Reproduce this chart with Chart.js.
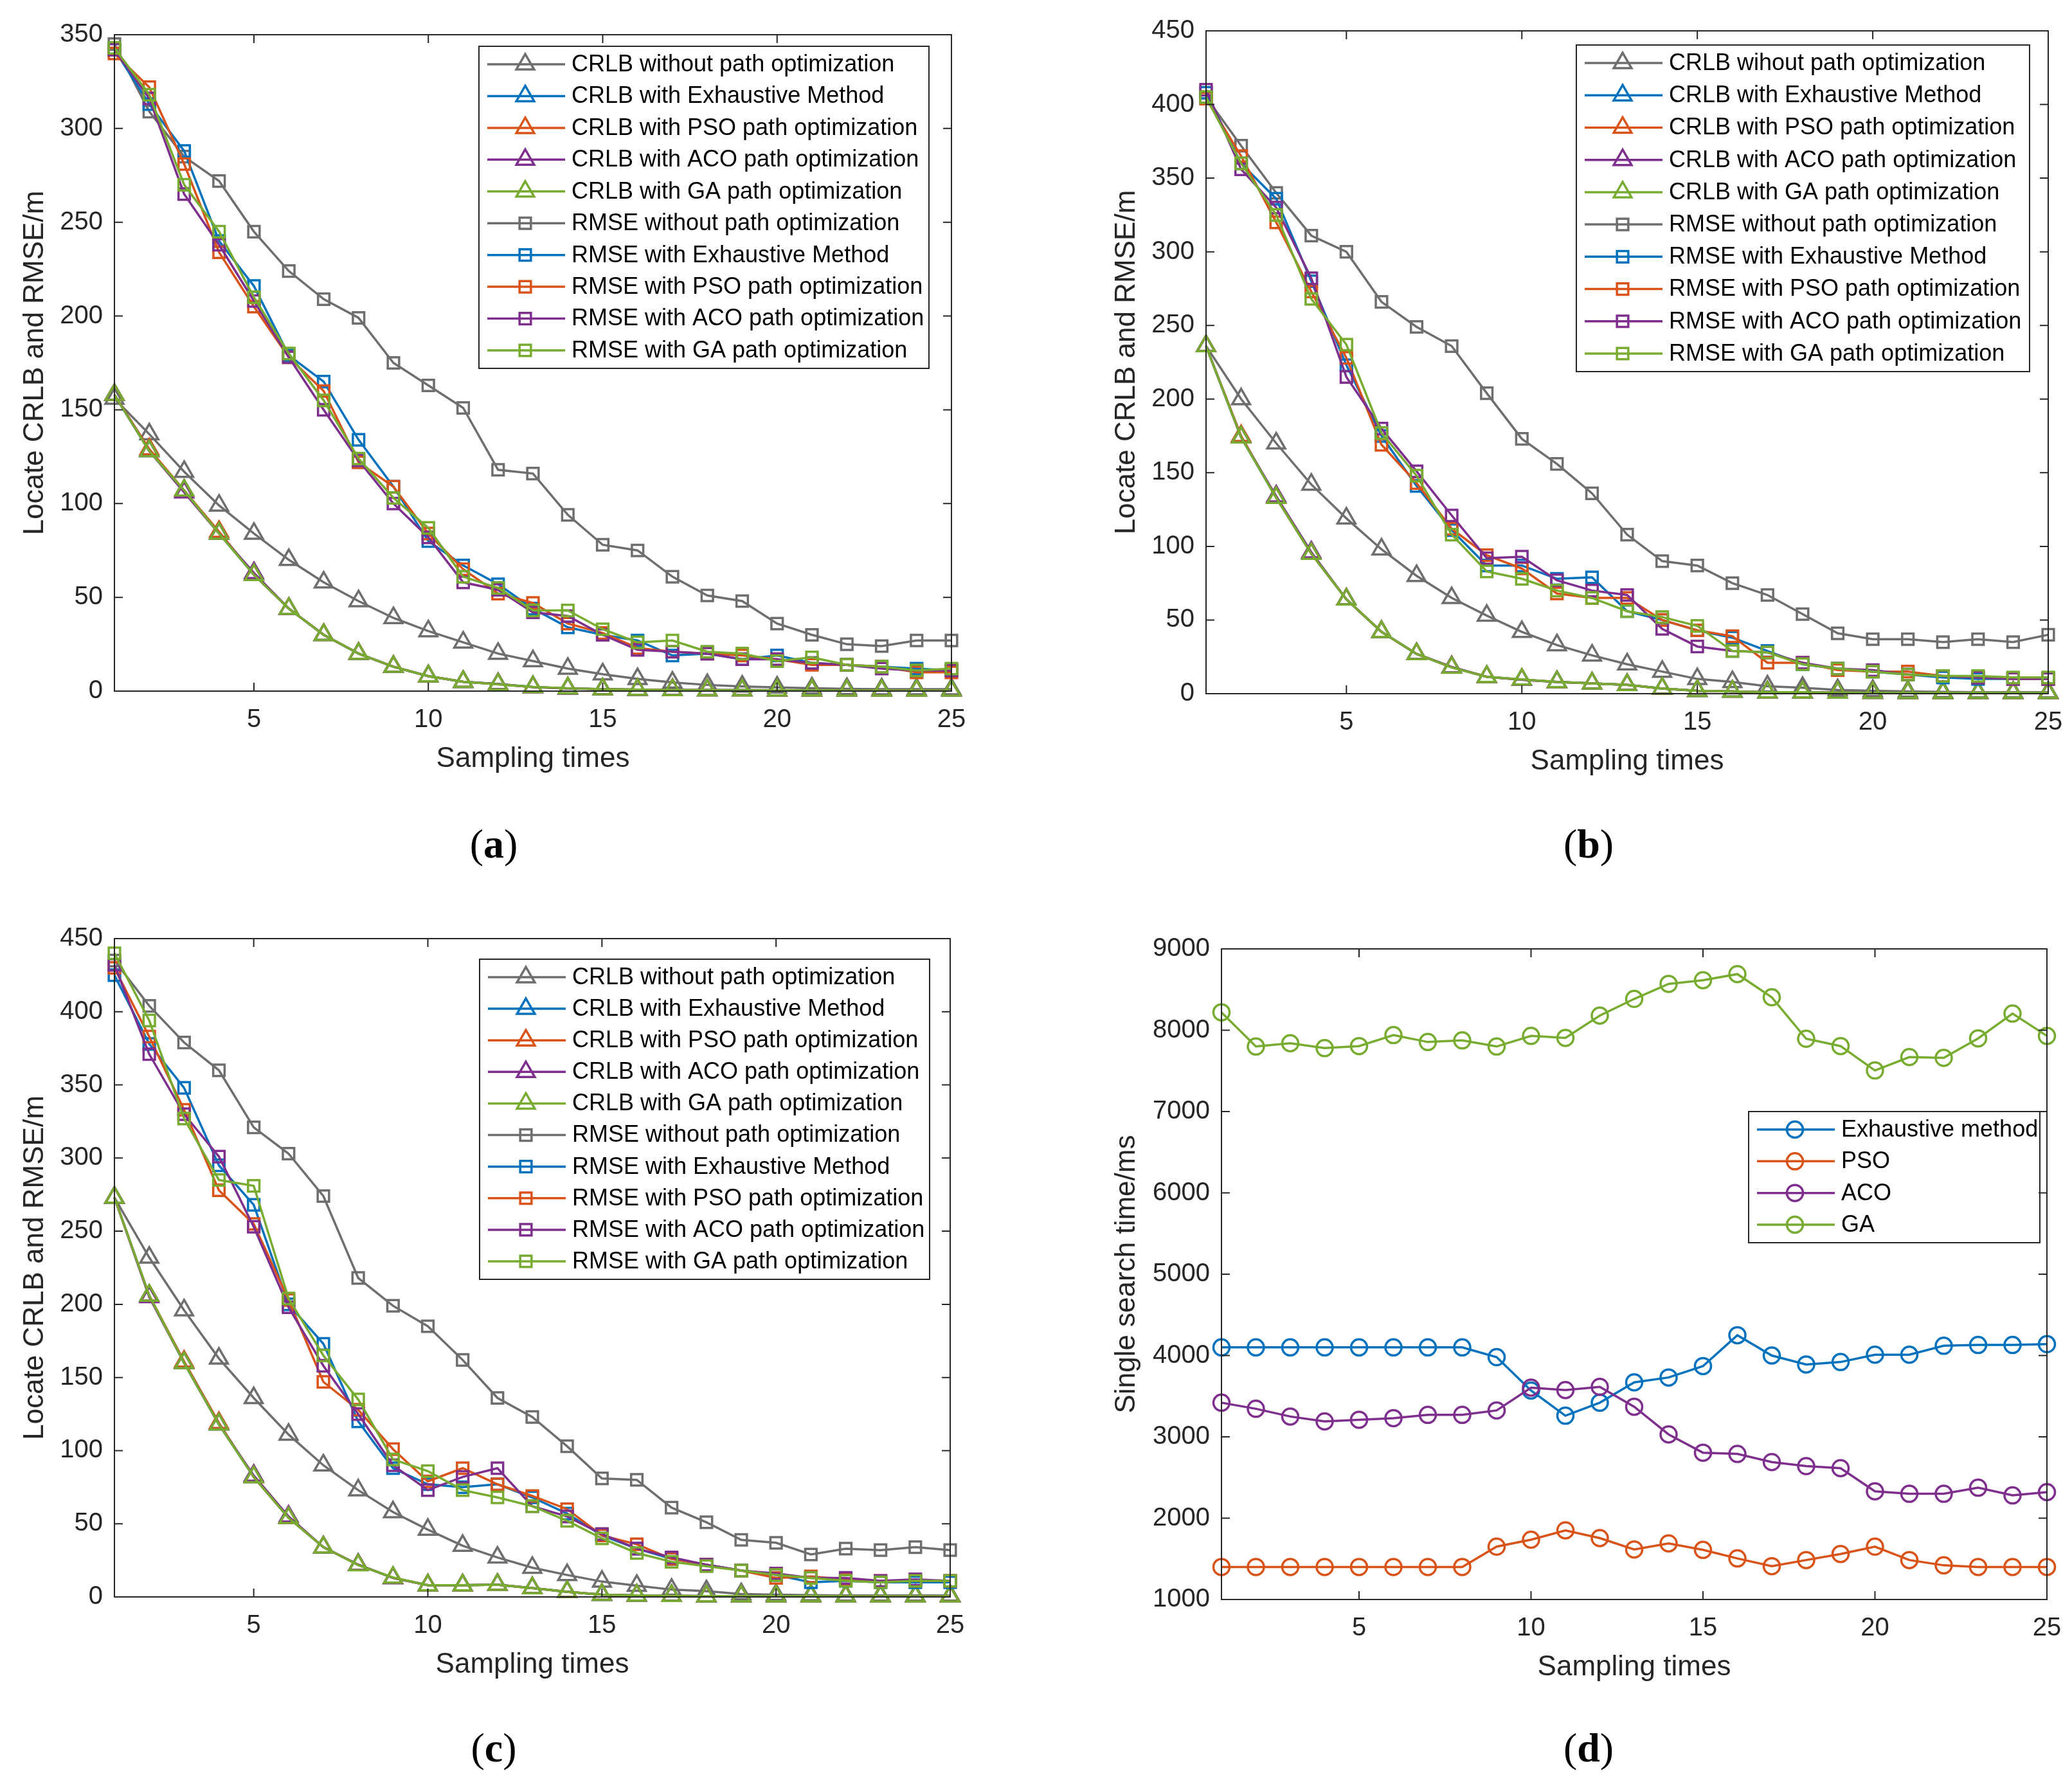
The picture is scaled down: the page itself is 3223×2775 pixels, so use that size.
<!DOCTYPE html>
<html>
<head>
<meta charset="utf-8">
<script src="https://cdn.jsdelivr.net/npm/chart.js@4.4.1/dist/chart.umd.min.js"></script>
<style>
  html, body { margin: 0; padding: 0; background: #fff; }
  body { width: 3223px; height: 2775px; position: relative; overflow: hidden; }
  canvas { position: absolute; }
  .cap { position: absolute; font-family: 'Liberation Serif', 'DejaVu Serif', serif; font-size: 64px;
         color: #000; transform: translate(-50%, -50%); white-space: nowrap; }
</style>
</head>
<body>
<canvas id="chartA"></canvas>
<canvas id="chartB"></canvas>
<canvas id="chartC"></canvas>
<canvas id="chartD"></canvas>
<div class="cap" style="left:768px;top:1313px">(<b>a</b>)</div>
<div class="cap" style="left:2471px;top:1313px">(<b>b</b>)</div>
<div class="cap" style="left:768px;top:2719px">(<b>c</b>)</div>
<div class="cap" style="left:2471px;top:2719px">(<b>d</b>)</div>
<script>
// sampling times (x axis) and labelled ticks
const sampling = [1, 2, 3, 4, 5, 6, 7, 8, 9, 10, 11, 12, 13, 14, 15, 16, 17, 18, 19, 20, 21, 22, 23, 24, 25];
const xTicks = [5, 10, 15, 20, 25];

// legend labels
const labelsA = ['CRLB without path optimization', 'CRLB with Exhaustive Method', 'CRLB with PSO path optimization',
  'CRLB with ACO path optimization', 'CRLB with GA path optimization', 'RMSE without path optimization',
  'RMSE with Exhaustive Method', 'RMSE with PSO path optimization', 'RMSE with ACO path optimization',
  'RMSE with GA path optimization'];
const labelsB = ['CRLB wihout path optimization', 'CRLB with Exhaustive Method', 'CRLB with PSO path optimization',
  'CRLB with ACO path optimization', 'CRLB with GA path optimization', 'RMSE without path optimization',
  'RMSE with Exhaustive Method', 'RMSE with PSO path optimization', 'RMSE with ACO path optimization',
  'RMSE with GA path optimization'];
const labelsD = ['Exhaustive method', 'PSO', 'ACO', 'GA'];

// (a)
const aCrlbNone = [156, 137, 117, 99, 84, 70, 58, 48, 39, 32, 26, 20, 16, 12, 9, 6.5, 4.6, 3.3, 2.5, 2, 1.5, 1.2, 1, 1, 1];
const aCrlbExh  = [158, 128, 107, 84, 62, 44, 30, 20, 13, 8, 5, 3.8, 2.2, 1.5, 1, 0.8, 0.6, 0.5, 0.5, 0.4, 0.4, 0.3, 0.3, 0.3, 0.3];
const aCrlbPso  = [158, 129, 107, 85, 62, 44, 30, 20, 13, 8, 5, 3.7, 2.1, 1.5, 1, 0.8, 0.6, 0.5, 0.5, 0.4, 0.4, 0.3, 0.3, 0.3, 0.3];
const aCrlbAco  = [158, 128, 106, 84, 63, 44, 30, 20, 13, 8, 5, 3.8, 2.1, 1.4, 1, 0.8, 0.6, 0.5, 0.5, 0.4, 0.4, 0.3, 0.3, 0.3, 0.3];
const aCrlbGa   = [158, 128, 107, 84, 62, 44, 30, 20, 13, 8, 5, 3.6, 2.2, 1.5, 1, 0.8, 0.6, 0.5, 0.5, 0.4, 0.4, 0.3, 0.3, 0.3, 0.3];
const aRmseNone = [345, 309, 285, 272, 245, 224, 209, 199, 175, 163, 151, 118, 116, 94, 78, 75, 61, 51, 48, 36, 30, 25, 24, 27, 27];
const aRmseExh  = [342, 313, 288, 240, 216, 179, 165, 134, 109, 80, 67, 57, 44, 34, 30, 27, 19, 20, 17, 19, 15, 14, 13, 12, 11];
const aRmsePso  = [340, 322, 281, 234, 205, 178, 160, 122, 109, 84, 65, 52, 47, 36, 31, 23, 21, 20, 19, 17, 14, 14, 13, 10, 10];
const aRmseAco  = [342, 316, 265, 238, 208, 178, 150, 123, 100, 82, 58, 54, 42, 40, 30, 22, 21, 20, 17, 17, 15, 14, 12, 11, 11];
const aRmseGa   = [343, 318, 270, 245, 210, 180, 155, 124, 103, 87, 61, 55, 43, 43, 33, 26, 27, 21, 20, 16, 18, 14, 13, 11, 12];

// (b)
const bCrlbNone = [236, 200, 170, 142, 119, 98, 80, 65, 53, 42, 33, 26, 20, 15, 10, 8, 5, 4, 2.5, 2, 1.5, 1.2, 1, 1, 1];
const bCrlbExh  = [236, 174, 133, 95, 64, 42, 27, 18, 11.5, 9.5, 8, 7, 6, 3.5, 2, 1.5, 1, 1, 0.8, 0.7, 0.6, 0.5, 0.5, 0.5, 0.5];
const bCrlbPso  = [236, 175, 133, 95, 64, 42, 27, 18, 11.5, 9.5, 8, 7, 6, 3.5, 2, 1.5, 1, 1, 0.8, 0.7, 0.6, 0.5, 0.5, 0.5, 0.5];
const bCrlbAco  = [236, 174, 134, 96, 64, 42, 27, 18, 11.5, 9.5, 8, 7, 6, 3.5, 2, 1.5, 1, 1, 0.8, 0.7, 0.6, 0.5, 0.5, 0.5, 0.5];
const bCrlbGa   = [236, 174, 133, 95, 64, 42, 27, 17.7, 11.5, 9.7, 8, 7, 6, 3.5, 2, 1.5, 1, 1, 0.8, 0.7, 0.6, 0.5, 0.5, 0.5, 0.5];
const bRmseNone = [405, 372, 340, 311, 300, 266, 249, 236, 204, 173, 156, 136, 108, 90, 87, 75, 67, 54, 41, 37, 37, 35, 37, 35, 40];
const bRmseExh  = [408, 360, 336, 280, 223, 175, 141, 111, 87, 87, 78, 79, 56, 50, 43, 38, 29, 20, 17, 15, 13, 11, 10, 10, 10];
const bRmsePso  = [404, 365, 320, 273, 228, 169, 143, 112, 94, 85, 68, 65, 65, 50, 43, 39, 21, 21, 16, 15, 15, 12, 11, 10, 10];
const bRmseAco  = [410, 356, 330, 282, 215, 180, 151, 121, 92, 93, 77, 70, 67, 44, 32, 29, 28, 21, 17, 16, 13, 12, 11, 10, 10];
const bRmseGa   = [405, 360, 325, 268, 237, 177, 148, 108, 83, 78, 70, 65, 56, 52, 46, 29, 28, 20, 17, 15, 13, 12, 12, 11, 11];

// (c)
const cCrlbNone = [273, 232, 196, 163, 136, 111, 90, 73, 58, 46, 35, 27, 20, 15, 10.5, 7.7, 5, 4, 2, 1.5, 1.2, 1, 1, 1, 1];
const cCrlbExh  = [273, 206, 160, 118, 82, 54, 34, 22, 13, 8, 8, 8.4, 6, 3.5, 1.5, 1, 0.8, 0.6, 0.5, 0.5, 0.5, 0.4, 0.4, 0.4, 0.4];
const cCrlbPso  = [273, 206, 161, 119, 82, 54, 34, 22, 13, 8, 8, 8.4, 6, 3.5, 1.5, 1, 0.8, 0.6, 0.5, 0.5, 0.5, 0.4, 0.4, 0.4, 0.4];
const cCrlbAco  = [273, 205, 160, 118, 83, 55, 34, 22, 13, 8, 8, 8.4, 6, 3.5, 1.5, 1, 0.8, 0.6, 0.5, 0.5, 0.5, 0.4, 0.4, 0.4, 0.4];
const cCrlbGa   = [273, 206, 160, 118, 82, 54, 34, 21.7, 13.3, 8, 8, 8.4, 6, 3.5, 1.5, 1, 0.8, 0.6, 0.5, 0.5, 0.5, 0.4, 0.4, 0.4, 0.4];
const cRmseNone = [435, 404, 379, 360, 321, 303, 274, 218, 199, 185, 162, 136, 123, 103, 81, 80, 61, 51, 39, 37, 29, 33, 32, 34, 32];
const cRmseExh  = [425, 378, 348, 295, 268, 200, 173, 120, 88, 77, 75, 77, 68, 57, 42, 33, 26, 22, 18, 15, 10, 11, 10, 10, 10];
const cRmsePso  = [430, 383, 333, 278, 255, 203, 147, 128, 101, 79, 88, 77, 69, 60, 42, 36, 26, 22, 18, 13, 14, 12, 11, 11, 11];
const cRmseAco  = [432, 371, 330, 301, 253, 198, 158, 125, 90, 73, 82, 88, 62, 55, 43, 33, 27, 22, 18, 16, 13, 13, 11, 12, 11];
const cRmseGa   = [440, 394, 327, 285, 281, 204, 165, 135, 94, 86, 73, 68, 62, 52, 40, 30, 24, 21, 18, 15, 13, 11, 10, 11, 11];

// (d) single search time / ms
const dExh = [4100, 4100, 4100, 4100, 4100, 4100, 4100, 4100, 3980, 3570, 3260, 3420, 3670, 3730, 3870, 4250, 4000, 3890, 3920, 4010, 4010, 4120, 4130, 4130, 4140];
const dPso = [1400, 1400, 1400, 1400, 1400, 1400, 1400, 1400, 1650, 1735, 1850, 1755, 1615, 1690, 1610, 1505, 1410, 1485, 1560, 1650, 1485, 1420, 1400, 1400, 1400];
const dAco = [3420, 3345, 3250, 3190, 3210, 3230, 3270, 3270, 3325, 3605, 3575, 3615, 3370, 3030, 2805, 2790, 2690, 2640, 2615, 2330, 2300, 2300, 2375, 2280, 2320];
const dGa  = [8220, 7800, 7840, 7780, 7805, 7940, 7855, 7875, 7800, 7930, 7905, 8180, 8385, 8570, 8615, 8690, 8405, 7895, 7805, 7505, 7670, 7660, 7900, 8205, 7930];

const GRAY = '#6e6e6e', BLUE = '#0072BD', ORANGE = '#D95319', PURPLE = '#7E2F8E', GREEN = '#77AC30';
const TEXT = '#262626';
const FAMILY = '"Liberation Sans", Arial, Helvetica, sans-serif';
const RADIUS = { triangle: 16, rect: 12.5, circle: 12.5 };
const LINE_W = 3.5;

const AXIS_W = 170, AXIS_H = 150, PAD_T = 40, PAD_R = 50, TICK = 13;

function drawMarker(ctx, style, r, x, y) {
  if (Chart.helpers && Chart.helpers.drawPoint) {
    Chart.helpers.drawPoint(ctx, { pointStyle: style, radius: r, borderWidth: LINE_W, rotation: 0 }, x, y);
    return;
  }
  ctx.beginPath();
  if (style === 'circle') ctx.arc(x, y, r, 0, Math.PI * 2);
  else if (style === 'rect') { const s = r * Math.SQRT1_2; ctx.rect(x - s, y - s, 2 * s, 2 * s); }
  else { ctx.moveTo(x, y - r); ctx.lineTo(x + r * 0.866, y + r / 2); ctx.lineTo(x - r * 0.866, y + r / 2); ctx.closePath(); }
  ctx.stroke();
}

// MATLAB-like box, inward ticks and legend
const framePlugin = {
  id: 'frame',
  afterDraw(chart, args, opts) {
    const { ctx, chartArea: a } = chart;
    const xs = chart.scales.x, ys = chart.scales.y;
    const L = opts.legend;
    ctx.save();

    // legend
    ctx.fillStyle = '#fff';
    ctx.fillRect(L.x, L.y, L.w, L.h);
    const sets = chart.data.datasets;
    const gap = (L.h - 56) / (sets.length - 1);
    ctx.font = '36px ' + FAMILY;
    ctx.textBaseline = 'middle';
    ctx.textAlign = 'left';
    sets.forEach((ds, i) => {
      const cy = L.y + 28 + i * gap;
      ctx.strokeStyle = ds.borderColor;
      ctx.lineWidth = LINE_W;
      ctx.beginPath();
      ctx.moveTo(L.x + 13, cy);
      ctx.lineTo(L.x + 134, cy);
      ctx.stroke();
      ctx.fillStyle = 'rgba(0,0,0,0)';
      drawMarker(ctx, ds.pointStyle, ds.pointRadius, L.x + 72, cy);
      ctx.fillStyle = '#000';
      ctx.fillText(ds.label, L.x + 144, cy + 1);
    });
    ctx.strokeStyle = TEXT;
    ctx.lineWidth = 2;
    ctx.strokeRect(L.x, L.y, L.w, L.h);

    // ticks
    ctx.beginPath();
    xs.ticks.forEach(t => {
      const px = xs.getPixelForValue(t.value);
      ctx.moveTo(px, a.bottom); ctx.lineTo(px, a.bottom - TICK);
      ctx.moveTo(px, a.top); ctx.lineTo(px, a.top + TICK);
    });
    ys.ticks.forEach(t => {
      const py = ys.getPixelForValue(t.value);
      ctx.moveTo(a.left, py); ctx.lineTo(a.left + TICK, py);
      ctx.moveTo(a.right, py); ctx.lineTo(a.right - TICK, py);
    });
    ctx.stroke();
    ctx.strokeRect(a.left, a.top, a.right - a.left, a.bottom - a.top);
    ctx.restore();
  }
};

function makePanel(id, p) {
  const cv = document.getElementById(id);
  const left = p.plot.l - AXIS_W, top = p.plot.t - PAD_T;
  const w = p.plot.r - p.plot.l + AXIS_W + PAD_R;
  const h = p.plot.b - p.plot.t + PAD_T + AXIS_H;
  cv.width = w; cv.height = h;
  cv.style.left = left + 'px'; cv.style.top = top + 'px';
  cv.style.width = w + 'px'; cv.style.height = h + 'px';

  const n = p.series.length;
  new Chart(cv, {
    type: 'line',
    data: {
      datasets: p.series.map((s, i) => ({
        label: p.labels[i],
        data: sampling.map((x, k) => ({ x: x, y: s.values[k] })),
        borderColor: s.color,
        backgroundColor: 'rgba(0,0,0,0)',
        borderWidth: LINE_W,
        pointStyle: s.marker,
        pointRadius: RADIUS[s.marker],
        pointBorderWidth: LINE_W,
        pointBorderColor: s.color,
        pointBackgroundColor: 'rgba(0,0,0,0)',
        tension: 0,
        clip: false,
        order: n - i
      }))
    },
    options: {
      responsive: false,
      animation: false,
      devicePixelRatio: 1,
      layout: { padding: { left: 0, top: PAD_T, right: PAD_R, bottom: 0 } },
      plugins: {
        legend: { display: false },
        tooltip: { enabled: false },
        frame: { legend: { x: p.legend.x - left, y: p.legend.y - top, w: p.legend.w, h: p.legend.h } }
      },
      scales: {
        x: {
          type: 'linear', min: 1, max: 25,
          grid: { display: false, drawTicks: false },
          border: { display: false },
          afterBuildTicks: s => { s.ticks = xTicks.map(v => ({ value: v })); },
          afterFit: s => { s.height = AXIS_H; },
          ticks: { font: { size: 40, family: FAMILY }, color: TEXT, padding: 21, maxRotation: 0, autoSkip: false,
                   callback: v => String(v) },
          title: { display: true, text: 'Sampling times', color: TEXT,
                   font: { size: 44, family: FAMILY, lineHeight: 1 }, padding: { top: 0, bottom: 22.5 } }
        },
        y: {
          type: 'linear', min: p.yMin, max: p.yMax,
          grid: { display: false, drawTicks: false },
          border: { display: false },
          afterFit: s => { s.width = AXIS_W; },
          ticks: { stepSize: p.yStep, font: { size: 40, family: FAMILY }, color: TEXT, padding: 18,
                   callback: v => String(v) },
          title: { display: true, text: p.yTitle, color: TEXT,
                   font: { size: 44, family: FAMILY, lineHeight: 1 }, padding: { top: p.yTitlePad, bottom: 0 } }
        }
      }
    },
    plugins: [framePlugin]
  });
}

function tenSeries(cn, ce, cp, ca, cg, rn, re, rp, ra, rg) {
  return [
    { values: cn, color: GRAY, marker: 'triangle' },
    { values: ce, color: BLUE, marker: 'triangle' },
    { values: cp, color: ORANGE, marker: 'triangle' },
    { values: ca, color: PURPLE, marker: 'triangle' },
    { values: cg, color: GREEN, marker: 'triangle' },
    { values: rn, color: GRAY, marker: 'rect' },
    { values: re, color: BLUE, marker: 'rect' },
    { values: rp, color: ORANGE, marker: 'rect' },
    { values: ra, color: PURPLE, marker: 'rect' },
    { values: rg, color: GREEN, marker: 'rect' }
  ];
}

makePanel('chartA', {
  plot: { l: 178, t: 52, r: 1480, b: 1075 },
  yMin: 0, yMax: 350, yStep: 50, yTitle: 'Locate CRLB and RMSE/m', yTitlePad: 24.5,
  labels: labelsA,
  legend: { x: 745, y: 72, w: 700, h: 501 },
  series: tenSeries(aCrlbNone, aCrlbExh, aCrlbPso, aCrlbAco, aCrlbGa, aRmseNone, aRmseExh, aRmsePso, aRmseAco, aRmseGa)
});

makePanel('chartB', {
  plot: { l: 1876, t: 46, r: 3186, b: 1079 },
  yMin: 0, yMax: 450, yStep: 50, yTitle: 'Locate CRLB and RMSE/m', yTitlePad: 24.5,
  labels: labelsB,
  legend: { x: 2452, y: 70, w: 705, h: 508 },
  series: tenSeries(bCrlbNone, bCrlbExh, bCrlbPso, bCrlbAco, bCrlbGa, bRmseNone, bRmseExh, bRmsePso, bRmseAco, bRmseGa)
});

makePanel('chartC', {
  plot: { l: 178, t: 1458, r: 1478, b: 2484 },
  yMin: 0, yMax: 450, yStep: 50, yTitle: 'Locate CRLB and RMSE/m', yTitlePad: 24.5,
  labels: labelsA,
  legend: { x: 746, y: 1492, w: 700, h: 498 },
  series: tenSeries(cCrlbNone, cCrlbExh, cCrlbPso, cCrlbAco, cCrlbGa, cRmseNone, cRmseExh, cRmsePso, cRmseAco, cRmseGa)
});

makePanel('chartD', {
  plot: { l: 1900, t: 1474, r: 3184, b: 2488 },
  yMin: 1000, yMax: 9000, yStep: 1000, yTitle: 'Single search time/ms', yTitlePad: 1,
  labels: labelsD,
  legend: { x: 2720, y: 1729, w: 453, h: 204 },
  series: [
    { values: dExh, color: BLUE, marker: 'circle' },
    { values: dPso, color: ORANGE, marker: 'circle' },
    { values: dAco, color: PURPLE, marker: 'circle' },
    { values: dGa, color: GREEN, marker: 'circle' }
  ]
});
</script>
</body>
</html>
